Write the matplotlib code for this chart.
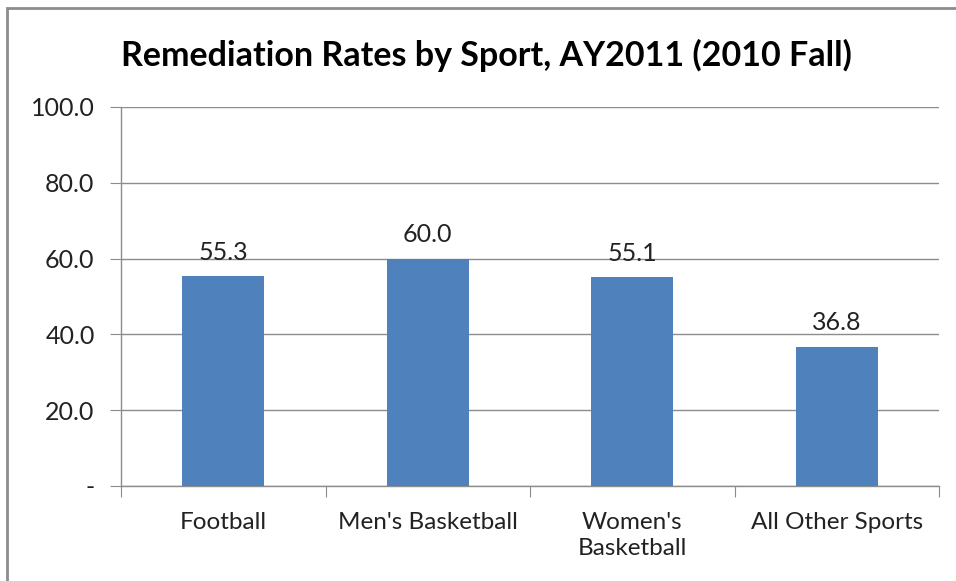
import matplotlib
matplotlib.use("Agg")
import matplotlib.pyplot as plt
from matplotlib.patches import Rectangle

categories = ["Football", "Men's Basketball", "Women's\nBasketball", "All Other Sports"]
values = [55.3, 60.0, 55.1, 36.8]
yticks = [0, 20, 40, 60, 80, 100]
ytick_labels = ["-", "20.0", "40.0", "60.0", "80.0", "100.0"]
title = "Remediation Rates by Sport, AY2011 (2010 Fall)"

plt.rcParams['font.family'] = ['Lato', 'DejaVu Sans']
W, H = 956, 581
fig = plt.figure(figsize=(W/100, H/100), dpi=100)
fig.patch.set_facecolor("white")
fig.patches.append(Rectangle((7/W, -0.1), 1.2, (H-8)/H + 0.1, transform=fig.transFigure,
                             fill=False, edgecolor="#8c8c8c", linewidth=2))

ax = fig.add_axes([121/W, 1-486/H, (939-121)/W, (486-107)/H])
x = list(range(len(categories)))
ax.bar(x, values, width=0.4, color="#4f81bd", zorder=3)
ax.set_xlim(-0.5, len(categories)-0.5)
ax.set_ylim(0, 100)
ax.set_yticks(yticks)
ax.set_yticklabels(ytick_labels)
ax.yaxis.grid(True, color="#8c8c8c", linewidth=1, zorder=0)
for s in ["top", "right"]:
    ax.spines[s].set_visible(False)
for s in ["left", "bottom"]:
    ax.spines[s].set_color("#8c8c8c")
    ax.spines[s].set_linewidth(1)
ax.tick_params(axis="y", length=8, color="#8c8c8c", labelsize=18, pad=11, labelcolor="#222222")
ax.set_xticks([i - 0.5 for i in range(len(categories)+1)], minor=False)
ax.set_xticklabels([])
ax.tick_params(axis="x", which="major", length=8, color="#8c8c8c")
ax.set_xticks(x, minor=True)
ax.set_xticklabels(categories, minor=True, linespacing=1.3)
ax.tick_params(axis="x", which="minor", length=0, labelsize=17.5, pad=19, labelcolor="#222222")
for xi, v in zip(x, values):
    ax.annotate(f"{v:.1f}", (xi, v), xytext=(0, 9), textcoords="offset points",
                ha="center", va="bottom", fontsize=18, color="#222222")
fig.text(486/W, 1-55/H, title, ha="center", va="center", fontsize=24.5, fontweight="bold", color="black")
fig.savefig("out.png", dpi=100)
